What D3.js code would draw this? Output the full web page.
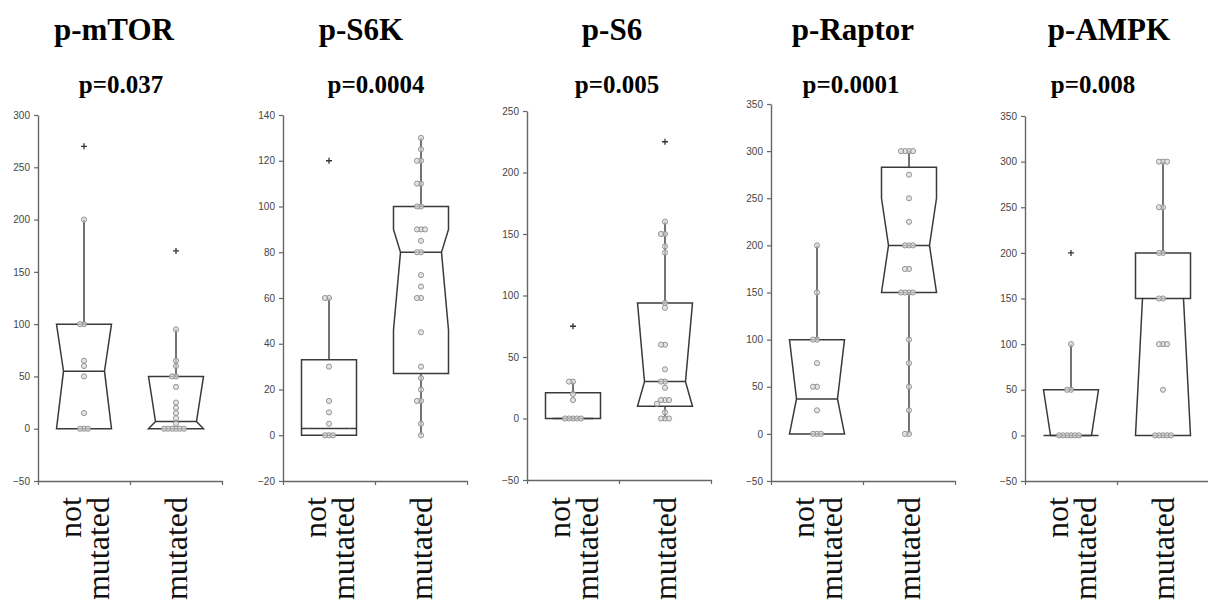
<!DOCTYPE html>
<html>
<head>
<meta charset="utf-8">
<script src="https://cdn.jsdelivr.net/npm/d3@7"></script>
<style>
  body { margin: 0; background: #fff; }
  svg { display: block; }
</style>
</head>
<body>
<svg id="chart" width="1208" height="612"></svg>
<script>
// ---- data ----
var markers = ['p-mTOR', 'p-S6K', 'p-S6', 'p-Raptor', 'p-AMPK'];
var pValues = ['p=0.037', 'p=0.0004', 'p=0.005', 'p=0.0001', 'p=0.008'];
var groups = ['not mutated', 'mutated'];

var yDomains = [[-50, 300], [-20, 140], [-50, 250], [-50, 350], [-50, 350]];
var yTicks = [
  [-50, 0, 50, 100, 150, 200, 250, 300],
  [-20, 0, 20, 40, 60, 80, 100, 120, 140],
  [-50, 0, 50, 100, 150, 200, 250],
  [-50, 0, 50, 100, 150, 200, 250, 300, 350],
  [-50, 0, 50, 100, 150, 200, 250, 300, 350]
];

// [whiskerLo, q1, notchLo, median, notchHi, q3, whiskerHi]
var boxStats = [
  [[0, 0, 0, 55, 100, 100, 200], [0, 0, 0, 7, 50, 50, 95]],
  [[0, 0, 3, 3, 3, 33, 60], [0, 27, 46, 80, 90, 100, 130]],
  [[0, 0, 0, 0, 0, 21, 30], [0, 10, 10, 30, 94, 94, 160]],
  [[0, 0, 0, 37, 100, 100, 200], [0, 150, 150, 200, 250, 283, 300]],
  [[0, 0, 0, 0, 50, 50, 100], [0, 0, 0, 150, 150, 200, 300]]
];

var outliers = [
  [[270], [170]],
  [[120], []],
  [[75], [225]],
  [[], []],
  [[200], []]
];

var points = [
  [
    [200, 100, 100, 65, 60, 50, 15, 0, 0, 0],
    [95, 65, 60, 50, 50, 40, 25, 20, 15, 10, 5, 0, 0, 0, 0, 0, 0]
  ],
  [
    [60, 60, 30, 15, 10, 5, 0, 0, 0],
    [130, 125, 120, 120, 110, 110, 100, 100, 90, 90, 90, 85, 80, 80, 70, 65, 60, 60, 45, 30, 25, 20, 15, 15, 5, 0]
  ],
  [
    [30, 30, 20, 15, 0, 0, 0, 0, 0],
    [160, 150, 150, 140, 135, 94, 90, 60, 60, 40, 30, 30, 25, 15, 15, 15, 12, 5, 0, 0, 0]
  ],
  [
    [200, 150, 100, 100, 75, 50, 50, 25, 0, 0, 0],
    [300, 300, 300, 300, 275, 250, 225, 200, 200, 200, 175, 175, 150, 150, 150, 150, 100, 75, 50, 25, 0, 0]
  ],
  [
    [100, 50, 50, 0, 0, 0, 0, 0, 0],
    [300, 300, 300, 250, 250, 200, 200, 150, 150, 100, 100, 100, 50, 0, 0, 0, 0, 0]
  ]
];

// ---- layout ----
var axisX = [38, 283, 527, 771, 1025];
var plotTop = [115, 115, 111, 104, 116];
var plotBottom = [481, 481, 480, 481, 481];
var plotW = 184;
var titleX = [114, 361, 612, 853, 1109];
var pX = [121, 376, 617, 851, 1093];
var boxW = 55, notchInset = 7;

var svg = d3.select('#chart');

// place points sideways so that they do not sit on top of each other
function dodge(values, y) {
  var placed = [];
  var sorted = values.slice().sort(function(a, b) { return b - a; });
  sorted.forEach(function(v) {
    var py = y(v);
    var k = 0, off = 0;
    while (true) {
      off = (k % 2 === 0 ? 1 : -1) * Math.ceil(k / 2) * 4;
      var clash = placed.some(function(p) {
        return Math.abs(p.dx - off) < 3.8 && Math.abs(p.py - py) < 4.5;
      });
      if (!clash) break;
      k++;
    }
    placed.push({ v: v, py: py, dx: off });
  });
  return placed;
}

function drawPanel(i) {
  var g = svg.append('g').attr('transform', 'translate(' + axisX[i] + ',0)');
  var y = d3.scaleLinear().domain(yDomains[i]).range([plotBottom[i], plotTop[i]]);
  var x = d3.scaleLinear().domain([0, 2]).range([0, plotW]);

  // y axis
  var yAxis = g.append('g')
    .call(d3.axisLeft(y).tickValues(yTicks[i]).tickSize(4).tickSizeOuter(0).tickPadding(4));
  yAxis.select('.domain').attr('stroke', '#666').attr('stroke-width', 1.4);
  yAxis.selectAll('.tick line').attr('stroke', '#666').attr('stroke-width', 1.2);
  yAxis.selectAll('.tick text')
    .attr('fill', '#444')
    .style('font-family', '"Liberation Sans", Arial, sans-serif')
    .style('font-size', '10px');

  // x axis
  var xAxis = g.append('g')
    .attr('transform', 'translate(0,' + y(yDomains[i][0]) + ')')
    .call(d3.axisBottom(x).tickValues([0, 1, 2]).tickSize(4).tickSizeOuter(0).tickFormat(''));
  xAxis.select('.domain').attr('stroke', '#666').attr('stroke-width', 1.4);
  xAxis.selectAll('.tick line').attr('stroke', '#666').attr('stroke-width', 1.2);

  groups.forEach(function(name, j) {
    var cx = x(j + 0.5);
    var s = boxStats[i][j];
    var L = cx - boxW / 2, R = cx + boxW / 2;
    var Ln = L + notchInset, Rn = R - notchInset;

    // whiskers
    g.append('line').attr('x1', cx).attr('x2', cx)
      .attr('y1', y(s[5])).attr('y2', y(s[6]))
      .attr('stroke', '#444').attr('stroke-width', 1.5);
    g.append('line').attr('x1', cx).attr('x2', cx)
      .attr('y1', y(s[1])).attr('y2', y(s[0]))
      .attr('stroke', '#444').attr('stroke-width', 1.5);

    // notched box
    var pts = [
      [L, y(s[5])], [L, y(s[4])], [Ln, y(s[3])], [L, y(s[2])], [L, y(s[1])],
      [R, y(s[1])], [R, y(s[2])], [Rn, y(s[3])], [R, y(s[4])], [R, y(s[5])]
    ];
    g.append('path')
      .attr('d', d3.line()(pts) + 'Z')
      .attr('fill', '#fff')
      .attr('stroke', '#3a3a3a').attr('stroke-width', 1.5)
      .attr('stroke-linejoin', 'miter');
    g.append('line').attr('x1', Ln).attr('x2', Rn)
      .attr('y1', y(s[3])).attr('y2', y(s[3]))
      .attr('stroke', '#3a3a3a').attr('stroke-width', 1.5);

    // individual values
    dodge(points[i][j], y).forEach(function(p) {
      g.append('circle')
        .attr('cx', cx + p.dx).attr('cy', p.py).attr('r', 2.6)
        .attr('fill', '#d9d9d9').attr('fill-opacity', 0.7)
        .attr('stroke', '#8c8c8c').attr('stroke-width', 0.9);
    });

    // outliers as crosses
    outliers[i][j].forEach(function(v) {
      var oy = y(v);
      g.append('path')
        .attr('d', 'M' + (cx - 3) + ',' + oy + 'H' + (cx + 3) + 'M' + cx + ',' + (oy - 3) + 'V' + (oy + 3))
        .attr('stroke', '#333').attr('stroke-width', 1.3);
    });

    // category label, rotated
    var words = name.split(' ');
    var lbl = g.append('text')
      .attr('transform', 'translate(' + (cx + 11 - (words.length - 1) * 14) + ',497) rotate(-90)')
      .attr('text-anchor', 'end')
      .style('font-family', '"Liberation Serif", "Times New Roman", serif')
      .style('font-size', '32px')
      .attr('fill', '#111');
    words.forEach(function(w, k) {
      lbl.append('tspan').attr('x', 0).attr('y', k * 28).text(w);
    });
  });

  // titles
  svg.append('text')
    .attr('x', titleX[i]).attr('y', 40)
    .attr('text-anchor', 'middle')
    .style('font-family', '"Liberation Serif", "Times New Roman", serif')
    .style('font-weight', 'bold').style('font-size', '31px')
    .text(markers[i]);
  svg.append('text')
    .attr('x', pX[i]).attr('y', 93)
    .attr('text-anchor', 'middle')
    .style('font-family', '"Liberation Serif", "Times New Roman", serif')
    .style('font-weight', 'bold').style('font-size', '25px')
    .text(pValues[i]);
}

markers.forEach(function(m, i) { drawPanel(i); });
</script>
</body>
</html>
